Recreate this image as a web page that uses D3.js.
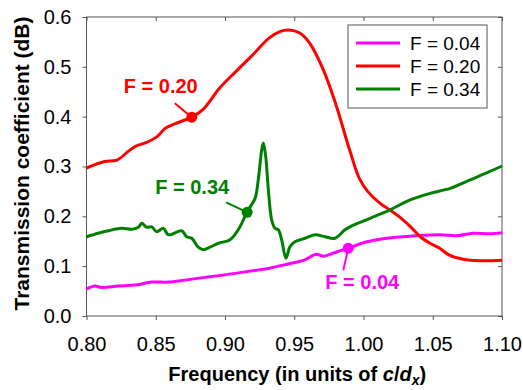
<!DOCTYPE html>
<html>
<head>
<meta charset="utf-8">
<script src="https://cdn.jsdelivr.net/npm/d3@7"></script>
<style>
  body { margin: 0; background: #fff; }
  svg { font-family: Arial, "Liberation Sans", sans-serif; }
</style>
</head>
<body>
<svg width="523" height="390"></svg>
<script>
// transmission vs frequency, three F values

var freq04 = [0.800,0.806,0.811,0.823,0.835,0.847,0.859,0.871,0.884,0.898,0.923,0.932,0.945,0.957,0.966,0.971,0.981,0.989,1.000,1.012,1.024,1.038,1.055,1.067,1.079,1.091,1.100];
var trans04 = [0.054,0.060,0.057,0.060,0.062,0.068,0.068,0.072,0.077,0.082,0.092,0.096,0.104,0.112,0.124,0.120,0.129,0.136,0.147,0.154,0.158,0.161,0.163,0.161,0.166,0.165,0.167];

var freq20 = [0.800,0.813,0.822,0.830,0.835,0.843,0.851,0.857,0.864,0.876,0.884,0.896,0.908,0.920,0.932,0.940,0.946,0.954,0.961,0.971,0.980,0.990,0.997,1.003,1.012,1.019,1.026,1.034,1.041,1.048,1.055,1.062,1.072,1.084,1.100];
var trans20 = [0.297,0.310,0.313,0.330,0.340,0.348,0.360,0.377,0.386,0.399,0.414,0.457,0.491,0.524,0.558,0.571,0.574,0.568,0.548,0.494,0.425,0.333,0.276,0.250,0.226,0.213,0.199,0.179,0.159,0.146,0.136,0.122,0.114,0.111,0.112];

var freq34 = [0.800,0.8085,0.8157,0.8254,0.8326,0.8374,0.8399,0.8435,0.8471,0.8507,0.8555,0.8591,0.8687,0.8723,0.876,0.8807,0.8843,0.8892,0.8952,0.9036,0.9108,0.9157,0.9217,0.924,0.9265,0.9277,0.9294,0.9313,0.9337,0.9361,0.9385,0.9409,0.944,0.9469,0.9505,0.9578,0.965,0.9722,0.9794,0.9866,0.9902,1.0047,1.0191,1.0336,1.048,1.0625,1.0769,1.0913,1.100];
var trans34 = [0.159,0.166,0.171,0.176,0.174,0.178,0.186,0.178,0.179,0.169,0.176,0.163,0.171,0.159,0.156,0.138,0.133,0.138,0.146,0.153,0.179,0.208,0.236,0.273,0.333,0.347,0.320,0.253,0.193,0.176,0.173,0.153,0.116,0.139,0.149,0.156,0.163,0.159,0.156,0.173,0.179,0.196,0.213,0.233,0.246,0.256,0.273,0.290,0.301];

var seriesNames = ["F = 0.04", "F = 0.20", "F = 0.34"];
var seriesColors = ["#ff00ff", "#ff0000", "#008000"];
// marked point on each curve
var markFreq = [0.989, 0.876, 0.916];
var markTrans = [0.136, 0.399, 0.208];

var xTicks = [0.80, 0.85, 0.90, 0.95, 1.00, 1.05, 1.10];
var yTicks = [0.0, 0.1, 0.2, 0.3, 0.4, 0.5, 0.6];

var svg = d3.select("svg"),
  pLeft = 86.5, pRight = 502, pTop = 17, pBottom = 316;

var x = d3.scaleLinear().domain([0.8, 1.1]).range([pLeft, pRight]),
  y = d3.scaleLinear().domain([0, 0.6]).range([pBottom, pTop]);

var series = [
  d3.zip(freq04, trans04),
  d3.zip(freq20, trans20),
  d3.zip(freq34, trans34)
];

// frame
svg.append("rect")
  .attr("x", pLeft).attr("y", pTop)
  .attr("width", pRight - pLeft).attr("height", pBottom - pTop)
  .attr("fill", "none").attr("stroke", "#555").attr("stroke-width", 1);

var fmt = d3.format(".2f");

function styleAxis(g) {
  g.select(".domain").remove();
  g.selectAll(".tick line").attr("stroke", "#555");
  g.selectAll(".tick text").attr("fill", "#000");
}

svg.append("g")
  .attr("transform", "translate(0," + pBottom + ")")
  .call(d3.axisBottom(x).tickValues(xTicks).tickFormat(fmt).tickSize(4).tickPadding(17))
  .attr("font-size", 20).attr("font-family", null)
  .call(styleAxis);

svg.append("g")
  .attr("transform", "translate(0," + pTop + ")")
  .call(d3.axisTop(x).tickValues(xTicks).tickFormat("").tickSizeInner(-4).tickSizeOuter(0))
  .call(styleAxis);

svg.append("g")
  .attr("transform", "translate(" + pLeft + ",0)")
  .call(d3.axisLeft(y).tickValues(yTicks).tickFormat(d3.format(".1f")).tickSize(4).tickPadding(11))
  .attr("font-size", 20).attr("font-family", null)
  .call(styleAxis);

svg.append("g")
  .attr("transform", "translate(" + pRight + ",0)")
  .call(d3.axisRight(y).tickValues(yTicks).tickFormat("").tickSizeInner(-4).tickSizeOuter(0))
  .call(styleAxis);

// axis titles
svg.append("text")
  .attr("transform", "translate(29," + ((pTop + pBottom) / 2 - 3) + ") rotate(-90)")
  .attr("text-anchor", "middle")
  .attr("font-size", 21).attr("font-weight", "bold")
  .text("Transmission coefficient (dB)");

var xt = svg.append("text")
  .attr("x", (pLeft + pRight) / 2 + 3).attr("y", 381)
  .attr("text-anchor", "middle")
  .attr("font-size", 20).attr("font-weight", "bold");
xt.append("tspan").text("Frequency (in units of ");
xt.append("tspan").attr("font-style", "italic").text("c");
xt.append("tspan").text("/");
xt.append("tspan").attr("font-style", "italic").text("d");
xt.append("tspan").attr("font-style", "italic").attr("font-size", 14).attr("dy", 4).text("x");
xt.append("tspan").attr("dy", -4).text(")");

// curves
var line = d3.line()
  .x(function(d) { return x(d[0]); })
  .y(function(d) { return y(d[1]); })
  .curve(d3.curveCatmullRom.alpha(0.5));

var curves = svg.append("g");
series.forEach(function(s, i) {
  curves.append("path")
    .attr("d", line(s))
    .attr("fill", "none")
    .attr("stroke", seriesColors[i])
    .attr("stroke-width", 3)
    .attr("stroke-linejoin", "round");
});

// callouts: marker + leader + label
var callout = [
  { tx: 14, ty: 41, lx: -5, ly: 22 },
  { tx: -31, ty: -24, lx: -17, ly: -14 },
  { tx: -55, ty: -18, lx: -21, ly: -10 }
];
callout.forEach(function(c, i) {
  var mx = x(markFreq[i]), my = y(markTrans[i]);
  svg.append("line")
    .attr("x1", mx).attr("y1", my)
    .attr("x2", mx + c.lx).attr("y2", my + c.ly)
    .attr("stroke", seriesColors[i]).attr("stroke-width", 2);
  svg.append("circle")
    .attr("cx", mx).attr("cy", my).attr("r", 5.5)
    .attr("fill", seriesColors[i]);
  svg.append("text")
    .attr("x", mx + c.tx).attr("y", my + c.ty)
    .attr("text-anchor", "middle")
    .attr("font-size", 20).attr("font-weight", "bold")
    .attr("fill", seriesColors[i])
    .text(seriesNames[i]);
});

// legend
var legend = svg.append("g").attr("transform", "translate(348,25)");
legend.append("rect")
  .attr("width", 139).attr("height", 83)
  .attr("fill", "#fff").attr("stroke", "#555");
seriesNames.forEach(function(n, i) {
  var yy = 18 + i * 23;
  legend.append("line")
    .attr("x1", 8).attr("x2", 52).attr("y1", yy).attr("y2", yy)
    .attr("stroke", seriesColors[i]).attr("stroke-width", 3);
  legend.append("text")
    .attr("x", 62).attr("y", yy).attr("dy", "0.35em")
    .attr("font-size", 19)
    .text(n);
});
</script>
</body>
</html>
